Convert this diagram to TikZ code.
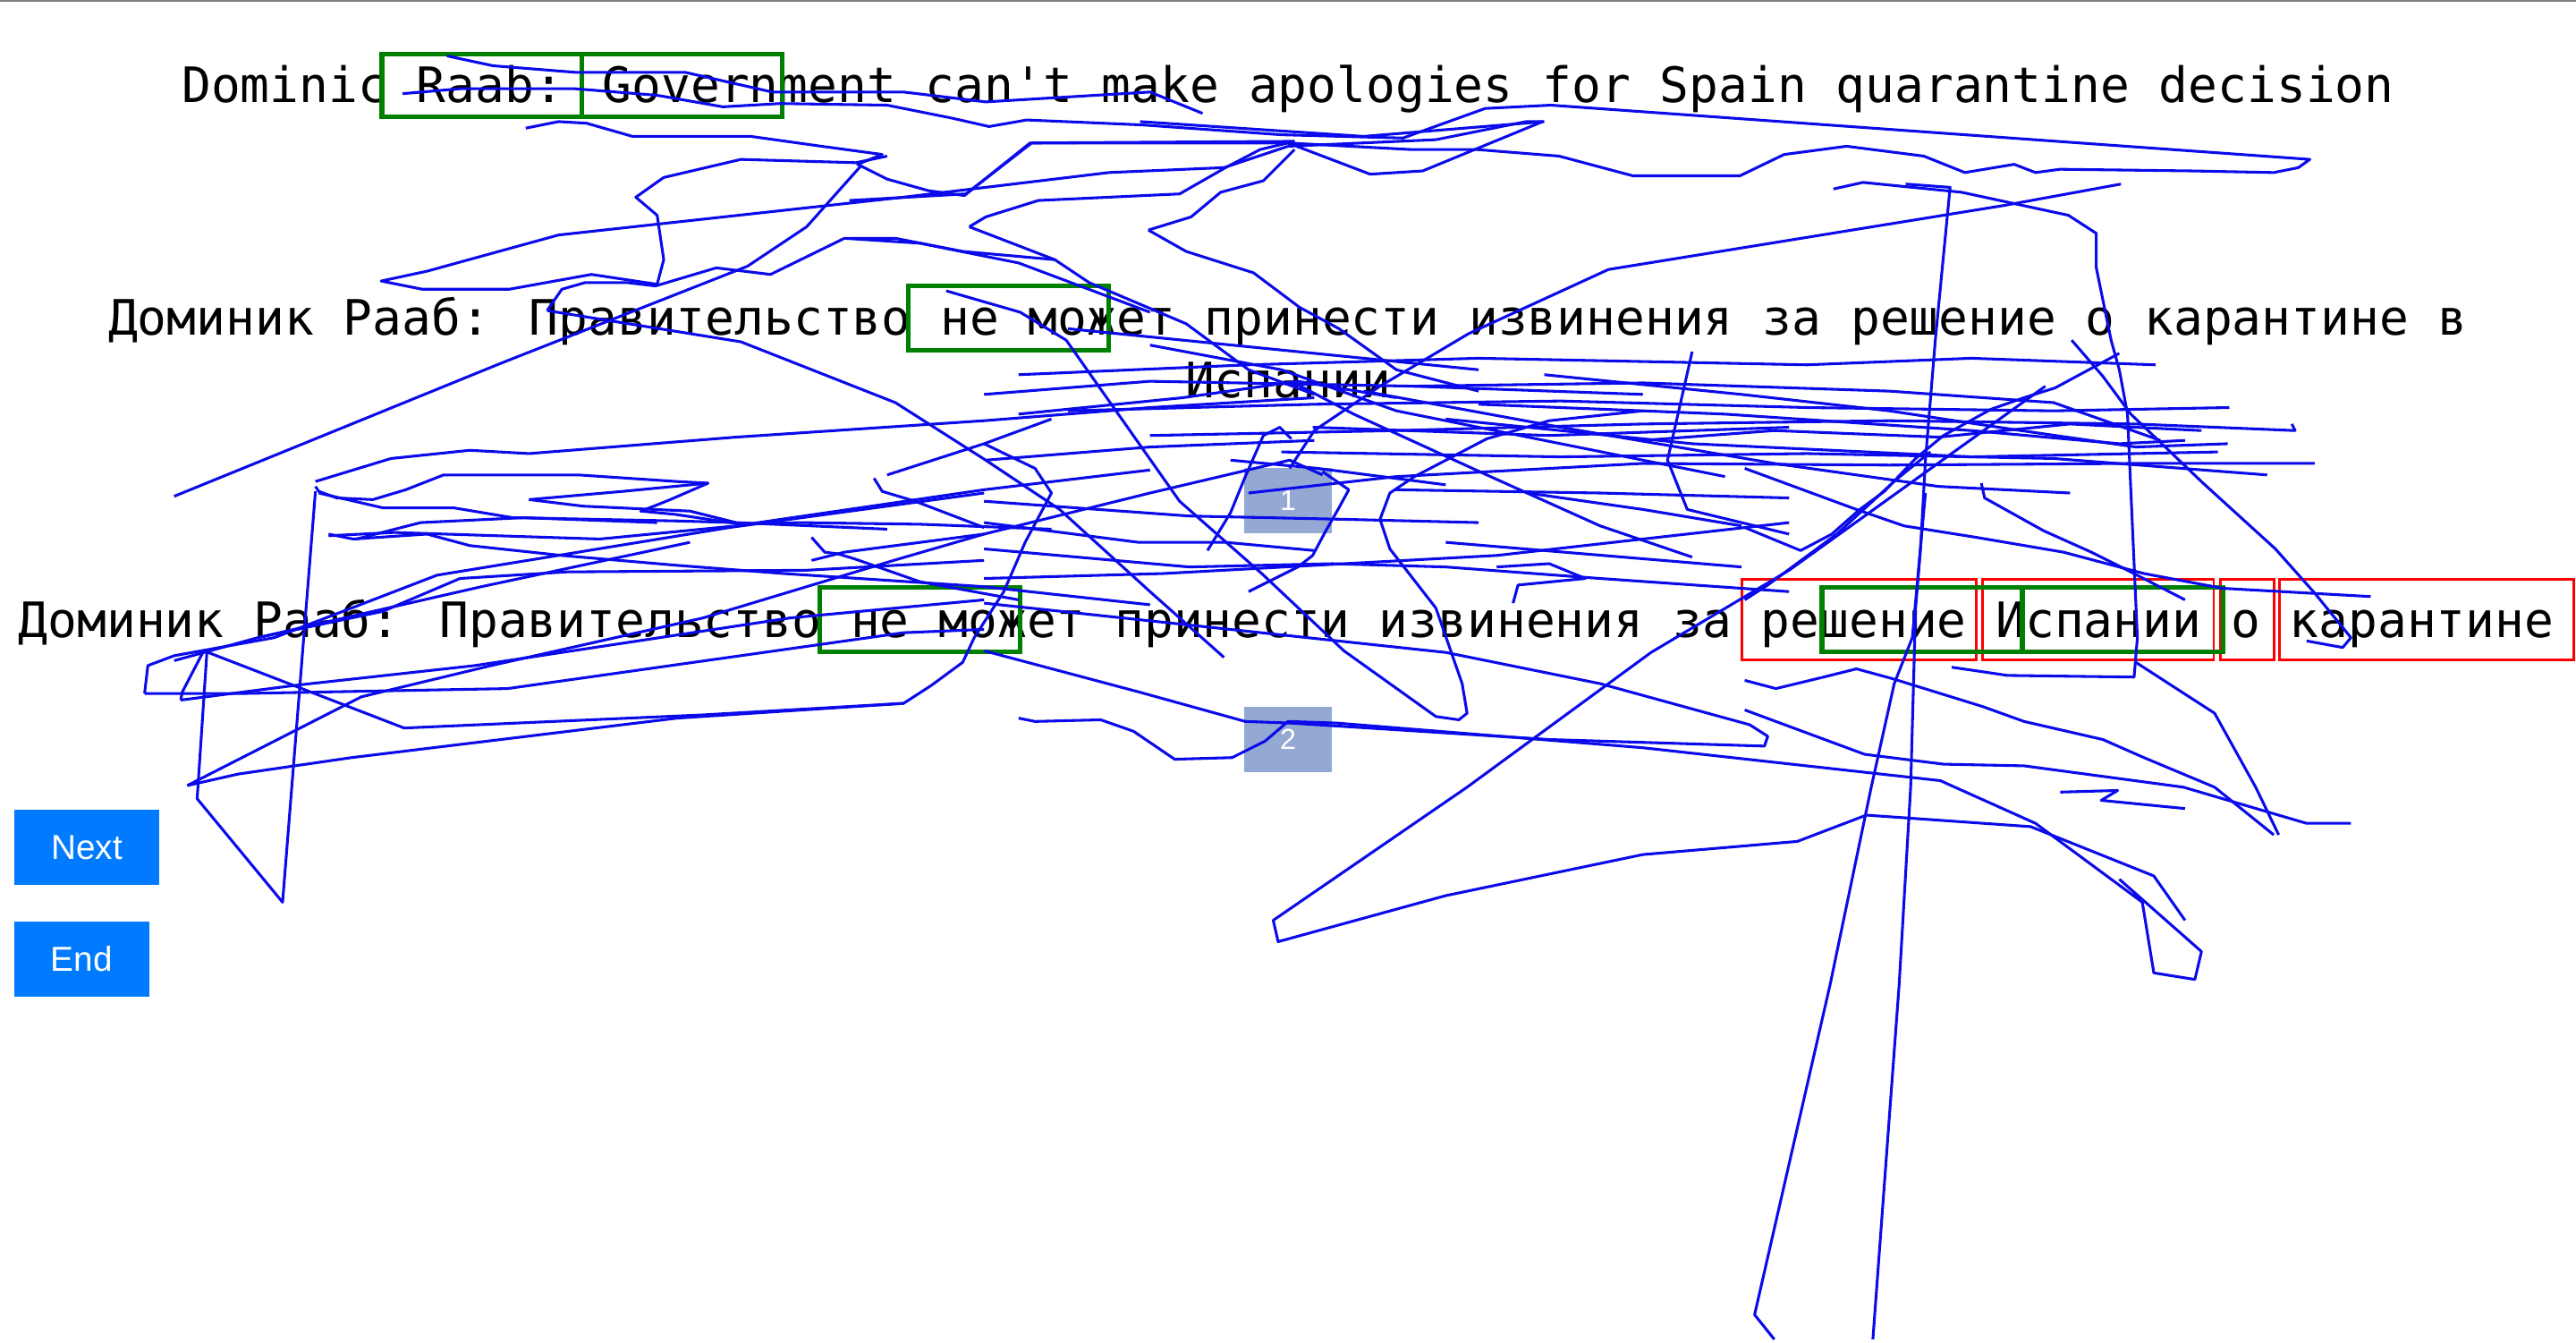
\documentclass[tikz,border=0pt]{standalone}
\usepackage{fontspec}
\setmainfont{DejaVu Sans Mono}
\newfontfamily\btnfont{Liberation Sans}
\usepackage{tikz}
\usetikzlibrary{positioning}

\definecolor{btnblue}{RGB}{0,123,255}
\definecolor{pagebox}{RGB}{147,168,210}
\definecolor{aoigreen}{RGB}{0,128,0}
\definecolor{gazeblue}{RGB}{10,10,235}

\tikzset{
  sentence/.style={anchor=base, inner sep=0pt, font=\fontsize{16.9}{20}\selectfont},
  aoi/.style={draw=aoigreen, line width=1.6pt},
  miss/.style={draw=red, line width=0.9pt},
  gaze/.style={gazeblue, line width=0.95pt, line join=round},
  pagenum/.style={fill=pagebox, minimum width=1.07cm, minimum height=0.8cm, inner sep=0pt, text=white, font=\btnfont\fontsize{10}{12}\selectfont},
  button/.style={fill=btnblue, text=white, inner sep=0pt, font=\btnfont\fontsize{12}{14}\selectfont}
}

\begin{document}
\begin{tikzpicture}[x=0.02cm, y=-0.02cm]
  \useasboundingbox (0,0) rectangle (1568,817);
  \draw[gray, line width=0.6pt] (0,0.5) -- (1568,0.5);

  % sentences
  \node[sentence] (src) at (784,62.5) {Dominic Raab: Government can\textquotesingle t make apologies for Spain quarantine decision};
  \node[sentence] (ref) at (784,204) {Доминик Рааб: Правительство не может принести извинения за решение о карантине в};
  \node[sentence] (refb) at (784,242) {Испании};
  \node[sentence] (hyp) at (783,388) {Доминик Рааб: Правительство не может принести извинения за решение Испании о карантине};

  % page markers and buttons
  \node[pagenum] (p1) at (784,304.5) {1};
  \node[pagenum] (p2) at (784,450) {2};
  \node[button, minimum width=1.764cm, minimum height=0.916cm] (next) at (52.8,515.6) {Next};
  \node[button, minimum width=1.64cm, minimum height=0.914cm] (end) at (49.7,583.6) {End};

  % boxes
  \foreach \xa/\xb in {232.5/354, 354/476}
    \draw[aoi] (\xa,33) rectangle (\xb,71);
  \draw[aoi] (553,174) rectangle (675,213);
  \foreach \xa/\xb in {1060.5/1203, 1206.5/1347.5, 1351.5/1384, 1387.5/1566.5}
    \draw[miss] (\xa,352.5) rectangle (\xb,401.5);
  \foreach \xa/\xb in {499/621, 1109/1231, 1231/1353}
    \draw[aoi] (\xa,357.5) rectangle (\xb,396.5);

  % scan path, top
  \draw[gaze] plot coordinates {(272,34) (300,40) (350,44) (417,44) (470,56) (550,56) (600,62) (700,56) (732,69)};
  \draw[gaze] plot coordinates {(245,57) (280,54) (320,54) (350,54) (400,58) (440,65) (475,63) (540,64) (580,72) (602,77) (625,73) (695,76) (780,82) (854,84) (904,66) (944,64) (1406,97) (1399,102) (1384,105) (1334,104) (1254,103) (1239,105) (1226,100) (1196,105) (1171,95) (1124,89) (1086,94) (1059,107) (994,107) (949,95) (899,91) (859,91) (784,87)};
  \draw[gaze] plot coordinates {(320,78) (340,74) (357,75) (385,83) (457,83) (500,89) (537,94) (522,100) (540,109) (565,116) (587,119) (627,87) (784,87) (834,106) (866,104) (939,74) (929,74) (874,85) (784,89)};
  \draw[gaze] plot coordinates {(540,95) (521,99) (451,97) (404,108) (387,120) (400,131) (404,158) (400,173) (360,167) (310,176) (257,176) (232,171) (260,165) (340,143) (550,120) (675,105) (745,102) (784,89)};
  \draw[gaze] plot coordinates {(1116,115) (1134,111) (1194,117) (1259,131) (1276,142) (1276,163) (1285,207) (1290,225) (1295,252) (1297,298) (1301,388) (1299,412) (1222,411) (1188,406)};
  \draw[gaze] plot coordinates {(1160,112) (1187,114) (1178,207) (1172,280) (1169,334) (1166,370) (1163,479) (1156,599) (1140,815)};
  \draw[gaze] plot coordinates {(1172,300) (1164,388) (1153,416) (1139,479) (1114,599) (1068,800) (1080,815)};
  \draw[gaze] plot coordinates {(1291,112) (1220,125) (979,164) (894,203) (840,235) (800,262) (785,285)};
  \draw[gaze] plot coordinates {(517,122) (588,118) (628,87) (788,86)};
  \draw[gaze] plot coordinates {(590,138) (600,132) (632,122) (718,118) (746,102) (767,91) (788,86)};
  \draw[gaze] plot coordinates {(590,138) (642,158) (663,172) (722,197) (760,225) (800,240)};
  \draw[gaze] plot coordinates {(699,140) (725,132) (743,117) (769,110) (788,91)};
  \draw[gaze] plot coordinates {(699,140) (722,153) (763,166) (791,187) (815,200) (850,225) (900,238)};
  \draw[gaze] plot coordinates {(517,145) (545,145) (586,153) (642,158)};
  \draw[gaze] plot coordinates {(694,74) (830,83) (940,74)};
  \draw[gaze] plot coordinates {(333,189) (342,176) (356,172) (382,172) (399,174) (436,163) (469,167) (514,145) (560,148) (620,160) (700,190)};
  \draw[gaze] plot coordinates {(333,189) (451,208) (545,245) (600,280) (645,310) (700,360) (745,400)};
  \draw[gaze] plot coordinates {(576,177) (621,190) (649,207) (718,305) (768,349) (818,396) (874,436) (888,438) (893,434) (890,416) (874,370) (846,334) (840,316) (846,300) (861,290) (905,267) (943,256) (1000,250)};
  \draw[gaze] plot coordinates {(106,302) (305,221) (455,162) (491,138) (524,101)};

  % scan path, left
  \draw[gaze] plot coordinates {(192,293) (238,279) (286,274) (322,276) (448,266) (599,256) (700,248) (800,242)};
  \draw[gaze] plot coordinates {(192,296) (194,299) (205,303) (227,304) (247,298) (270,289) (352,289) (412,293) (431,294) (408,304) (398,308) (390,311) (411,313) (451,319) (487,318) (560,319) (640,322)};
  \draw[gaze] plot coordinates {(194,300) (233,309) (276,309) (312,315) (412,317) (448,318) (540,322)};
  \draw[gaze] plot coordinates {(322,304) (355,308) (420,311) (448,318)};
  \draw[gaze] plot coordinates {(322,304) (379,299) (431,294)};
  \draw[gaze] plot coordinates {(200,325) (215,328) (260,325) (286,332) (342,338) (412,344) (477,349) (599,357) (700,368)};
  \draw[gaze] plot coordinates {(217,328) (256,318) (319,315) (400,318)};
  \draw[gaze] plot coordinates {(200,326) (240,324) (365,328) (448,320) (599,298) (700,286)};
  \draw[gaze] plot coordinates {(494,327) (502,336) (510,337) (520,340) (560,354) (620,365)};
  \draw[gaze] plot coordinates {(532,291) (537,299) (557,305) (599,321)};
  \draw[gaze] plot coordinates {(540,289) (599,270) (640,255)};
  \draw[gaze] plot coordinates {(494,341) (514,336) (599,325)};
  \draw[gaze] plot coordinates {(106,402) (157,388) (233,372) (280,352) (345,348) (491,347) (599,341)};
  \draw[gaze] plot coordinates {(88,422) (90,405) (106,399) (167,388) (227,365) (266,350) (444,321) (599,300)};
  \draw[gaze] plot coordinates {(88,422) (147,422) (309,419) (550,385) (599,383)};
  \draw[gaze] plot coordinates {(110,426) (111,421) (124,396) (246,443) (428,435) (550,428) (567,417) (586,403) (593,388) (611,360) (624,330) (640,300) (630,285) (599,270)};
  \draw[gaze] plot coordinates {(110,426) (180,417) (289,405) (481,376) (599,365)};
  \draw[gaze] plot coordinates {(192,299) (172,549) (120,486) (126,396)};
  \draw[gaze] plot coordinates {(114,478) (220,424) (299,405) (428,376) (544,341) (599,325) (700,300) (785,280) (805,289)};
  \draw[gaze] plot coordinates {(114,478) (145,471) (214,461) (412,437) (550,428)};
  \draw[gaze] plot coordinates {(157,388) (293,357) (420,330)};

  % scan path, middle
  \draw[gaze] plot coordinates {(620,437) (630,439) (670,438) (690,445) (715,462) (750,461) (770,451) (784,439) (814,440) (1000,455) (1181,475) (1239,501) (1304,549) (1311,592) (1336,596) (1340,579) (1290,535)};
  \draw[gaze] plot coordinates {(599,396) (693,421) (758,439) (786,440) (943,450) (1074,454) (1076,448) (1065,441) (974,416) (880,397) (599,367)};
  \draw[gaze] plot coordinates {(1245,235) (1089,347) (1005,397) (893,479) (775,560) (778,573) (880,545) (1000,520) (1094,512) (1136,496) (1236,503) (1311,533) (1330,560)};
  \draw[gaze] plot coordinates {(805,287) (821,298) (815,309) (807,323) (799,338) (790,345) (760,360)};
  \draw[gaze] plot coordinates {(786,267) (779,260) (769,265) (758,290) (749,312) (735,335)};
  \draw[gaze] plot coordinates {(849,298) (974,300) (1089,303)};
  \draw[gaze] plot coordinates {(599,305) (724,314) (818,316) (900,318)};
  \draw[gaze] plot coordinates {(599,318) (693,330) (746,330) (800,335)};
  \draw[gaze] plot coordinates {(599,334) (724,345) (811,343) (880,345) (974,352) (1089,360)};
  \draw[gaze] plot coordinates {(599,352) (708,349) (911,338) (1089,318)};
  \draw[gaze] plot coordinates {(799,260) (943,265) (1089,260)};
  \draw[gaze] plot coordinates {(749,280) (802,285) (880,295)};
  \draw[gaze] plot coordinates {(1030,214) (1015,280) (1027,310) (1089,325)};
  \draw[gaze] plot coordinates {(786,232) (824,252) (905,289) (974,320) (1030,339)};
  \draw[gaze] plot coordinates {(911,345) (943,343) (965,352) (924,356) (921,367)};
  \draw[gaze] plot coordinates {(599,240) (700,232) (860,235) (1000,240)};
  \draw[gaze] plot coordinates {(620,252) (720,242) (790,232) (850,242)};
  \draw[gaze] plot coordinates {(700,210) (780,225) (850,250) (950,270) (1050,290)};
  \draw[gaze] plot coordinates {(880,330) (1000,340) (1060,345)};
  \draw[gaze] plot coordinates {(930,300) (1000,310) (1060,320)};
  \draw[gaze] plot coordinates {(600,280) (700,272) (800,268)};
  \draw[gaze] plot coordinates {(650,200) (800,215) (900,225)};

  % scan path, right
  \draw[gaze] plot coordinates {(1261,207) (1280,229) (1297,252) (1341,294) (1385,334) (1409,361) (1431,388) (1426,394) (1404,390)};
  \draw[gaze] plot coordinates {(1062,321) (1096,335) (1115,325) (1132,310) (1147,299) (1166,279) (1183,265) (1212,249) (1232,242) (1251,236) (1290,215)};
  \draw[gaze] plot coordinates {(1062,365) (1076,356) (1118,325) (1154,292) (1175,275)};
  \draw[gaze] plot coordinates {(1062,285) (1130,310) (1159,320) (1203,327) (1256,336) (1305,349) (1353,358) (1443,363)};
  \draw[gaze] plot coordinates {(1206,294) (1208,303) (1244,323) (1273,336) (1295,347) (1330,365)};
  \draw[gaze] plot coordinates {(1062,414) (1081,419) (1110,412) (1130,407) (1152,413) (1207,430) (1232,439) (1280,450) (1305,461) (1348,479) (1384,508)};
  \draw[gaze] plot coordinates {(1300,403) (1348,434) (1373,479) (1387,508)};
  \draw[gaze] plot coordinates {(1062,432) (1135,459) (1183,465) (1232,466) (1329,479) (1404,501) (1431,501)};
  \draw[gaze] plot coordinates {(1254,482) (1289,481) (1279,487) (1330,492)};
  \draw[gaze] plot coordinates {(620,228) (760,222) (900,218) (1000,220) (1100,222) (1200,218) (1312,222)};
  \draw[gaze] plot coordinates {(650,250) (800,246) (950,244) (1100,248) (1250,250) (1357,248)};
  \draw[gaze] plot coordinates {(700,265) (850,262) (1000,258) (1150,256) (1300,258) (1397,262) (1395,258)};
  \draw[gaze] plot coordinates {(760,300) (850,290) (1000,282) (1150,283) (1300,282) (1409,282)};
  \draw[gaze] plot coordinates {(780,275) (950,278) (1100,276) (1250,279) (1380,289)};
  \draw[gaze] plot coordinates {(860,235) (1000,233) (1150,238) (1250,245) (1315,268)};
  \draw[gaze] plot coordinates {(900,246) (1050,252) (1200,262) (1290,270) (1330,268)};
  \draw[gaze] plot coordinates {(830,238) (950,260) (1080,282) (1180,296) (1260,300)};
  \draw[gaze] plot coordinates {(880,255) (1030,270) (1200,278) (1350,275)};
  \draw[gaze] plot coordinates {(940,228) (1060,240) (1150,250) (1230,262) (1300,272) (1356,270)};
  \draw[gaze] plot coordinates {(1000,268) (1080,262) (1180,266) (1260,258) (1340,262)};
\end{tikzpicture}
\end{document}
